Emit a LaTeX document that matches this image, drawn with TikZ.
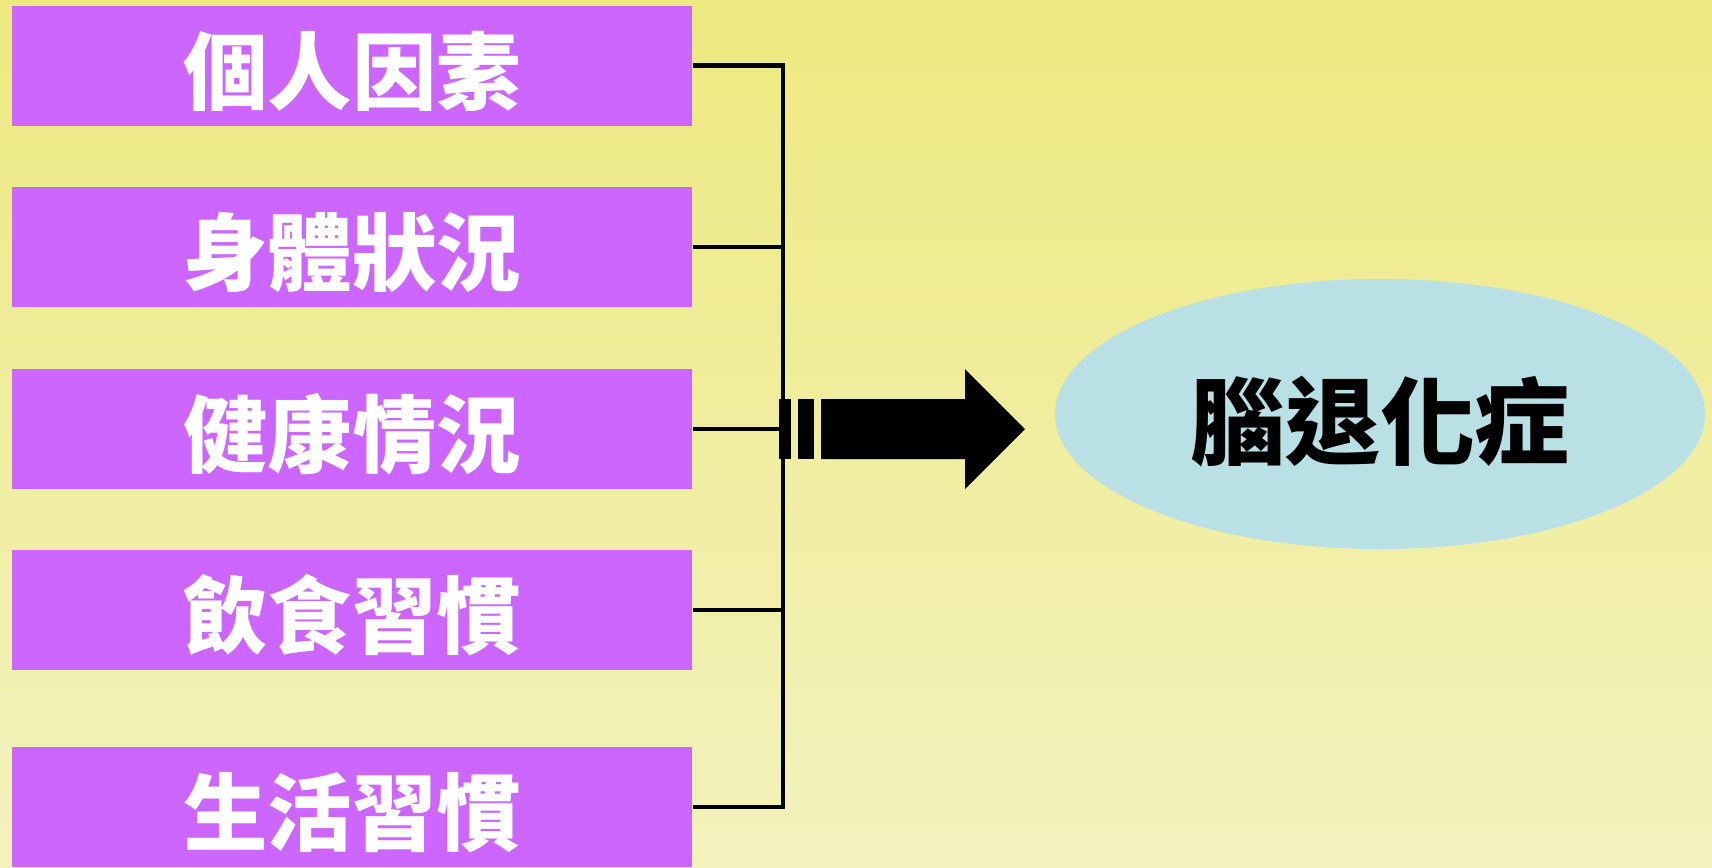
\documentclass[tikz,border=0pt]{standalone}
\usepackage{fontspec}
\newfontfamily\cjk{Noto Sans CJK TC}
\definecolor{bgtop}{RGB}{237, 233, 128}
\definecolor{bgbottom}{RGB}{243, 242, 190}
\definecolor{boxpurple}{RGB}{204, 102, 255}
\definecolor{ellblue}{RGB}{185, 224, 228}
\usetikzlibrary{shapes, arrows.meta, positioning, calc}

\begin{document}
\begin{tikzpicture}[
  x=0.1mm, y=-0.1mm,
  factor/.style={fill=boxpurple, minimum width=68mm, minimum height=12mm, inner sep=0pt, text=white, text height=24pt, text depth=2.6pt, font=\cjk\bfseries\fontsize{24}{28}\selectfont},
  bus/.style={line width=1.2pt, line join=miter},
  goal/.style={ellipse, fill=ellblue, minimum width=65mm, minimum height=27mm, text height=28pt, text depth=3pt, font=\cjk\bfseries\fontsize{27}{32}\selectfont}
]
  \useasboundingbox (0,0) rectangle (1712,867);
  \shade[top color=bgtop, bottom color=bgbottom] (0,0) rectangle (1712,867);

  \node[factor] (f1) at (352,65.5) {個人因素};
  \node[factor] (f2) at (352,247) {身體狀況};
  \node[factor] (f3) at (352,429) {健康情況};
  \node[factor] (f4) at (352,610) {飲食習慣};
  \node[factor] (f5) at (352,807) {生活習慣};

  \node[goal] (brain) at (1380,414) {腦退化症};

  \coordinate (bt) at (783,65.5);
  \coordinate (bb) at (783,807);
  \draw[bus] (f1.east) -- (bt) -- (bb) -- (f5.east);
  \foreach \n in {f2, f3, f4}
    \draw[bus] (\n.east) -- (\n.east -| bt);

  % striped block arrow
  \fill (779,399) rectangle (791,459);
  \fill (798,399) rectangle (814,459);
  \fill (821,399) -- (965,399) -- (965,369) -- (1025,429) -- (965,489) -- (965,459) -- (821,459) -- cycle;
\end{tikzpicture}
\end{document}
